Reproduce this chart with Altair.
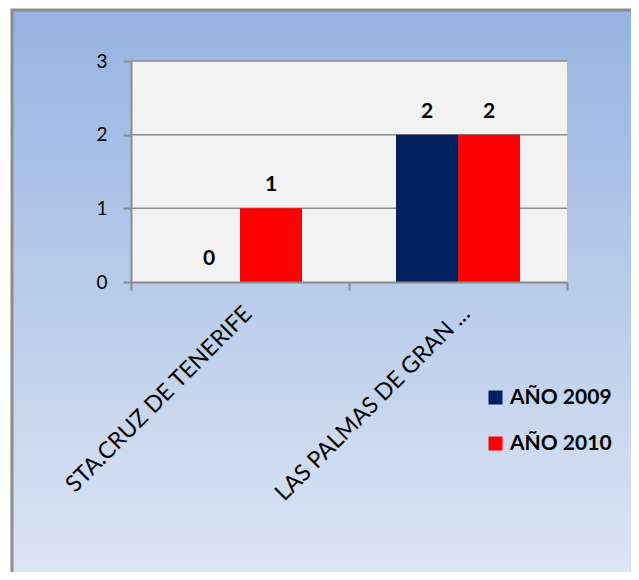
import altair as alt
import pandas as pd

categories = ["STA.CRUZ DE TENERIFE", "LAS PALMAS DE GRAN ..."]
series = ["AÑO 2009", "AÑO 2010"]
values_2009 = [0, 2]
values_2010 = [1, 2]
y_ticks = [0, 1, 2, 3]
colors = ["#002060", "#ff0000"]

rows = []
for i, c in enumerate(categories):
    rows.append({"cat": c, "serie": series[0], "val": values_2009[i]})
    rows.append({"cat": c, "serie": series[1], "val": values_2010[i]})
df = pd.DataFrame(rows)

W, H = 436, 221
FONT = "Lato"

x_enc = alt.X("cat:N", sort=categories, title=None,
              scale=alt.Scale(paddingInner=0, paddingOuter=0),
              axis=alt.Axis(labelAngle=-45, labelFontSize=23, labelFont=FONT,
                            labelColor="#000000", labelPadding=12, labelLimit=500,
                            tickBand="extent", tickSize=8, tickColor="#8c8c8c",
                            domainColor="#8c8c8c", domainWidth=2, tickWidth=2,
                            grid=False, zindex=1))
y_scale = alt.Scale(domain=[0, 3], nice=False)

bg = alt.Chart(alt.Data(values=[{}])).mark_rect(
    fill=alt.Gradient(gradient="linear", x1=0, y1=0, x2=0, y2=1,
                      stops=[alt.GradientStop(offset=0, color="#95b3e1"),
                             alt.GradientStop(offset=1, color="#e0e7f5")]),
    stroke="#8c8c8c", strokeWidth=3
).encode(x=alt.value(-119), x2=alt.value(530), y=alt.value(-51), y2=alt.value(540))

plotbg = alt.Chart(alt.Data(values=[{}])).mark_rect(fill="#f2f2f2").encode(
    x=alt.value(0), x2=alt.value(W), y=alt.value(0), y2=alt.value(H))

grid = alt.Chart(pd.DataFrame({"v": y_ticks[1:]})).mark_rule(
    color="#8c8c8c", strokeWidth=1.5
).encode(y=alt.Y("v:Q", scale=y_scale), x=alt.value(0), x2=alt.value(W))

bars = alt.Chart(df).mark_bar(size=62).encode(
    x=x_enc,
    xOffset=alt.XOffset("serie:N", sort=series,
                        scale=alt.Scale(paddingInner=0, paddingOuter=0.758)),
    y=alt.Y("val:Q", scale=y_scale, title=None,
            axis=alt.Axis(values=y_ticks, format="d", labelFontSize=19, labelFont=FONT,
                          labelColor="#000000", labelPadding=16, tickSize=8,
                          tickColor="#8c8c8c", domainColor="#8c8c8c", domainWidth=2,
                          tickWidth=2, grid=False, zindex=1)),
    color=alt.Color("serie:N", sort=series, title=None,
                    scale=alt.Scale(domain=series, range=colors),
                    legend=alt.Legend(orient="none", legendX=354, legendY=326,
                                      symbolType="square", symbolSize=196,
                                      symbolStrokeWidth=0, labelFontSize=21,
                                      labelFont=FONT, labelFontWeight="bold",
                                      labelColor="#000000", rowPadding=24,
                                      labelOffset=4, padding=0)),
)

labels = alt.Chart(df).mark_text(
    fontSize=21, fontWeight="bold", font=FONT, baseline="alphabetic", dy=-17, color="#000000"
).encode(
    x=alt.X("cat:N", sort=categories),
    xOffset=alt.XOffset("serie:N", sort=series),
    y=alt.Y("val:Q", scale=y_scale),
    text=alt.Text("val:Q", format="d"),
)

chart = alt.layer(bg, plotbg, grid, bars, labels).properties(
    width=W, height=H,
    autosize=alt.AutoSizeParams(type="none"),
    padding={"left": 123, "top": 53, "right": 64, "bottom": 290},
).configure_view(stroke=None)

chart.save("out.html", embed_options={"renderer": "svg", "actions": False})
